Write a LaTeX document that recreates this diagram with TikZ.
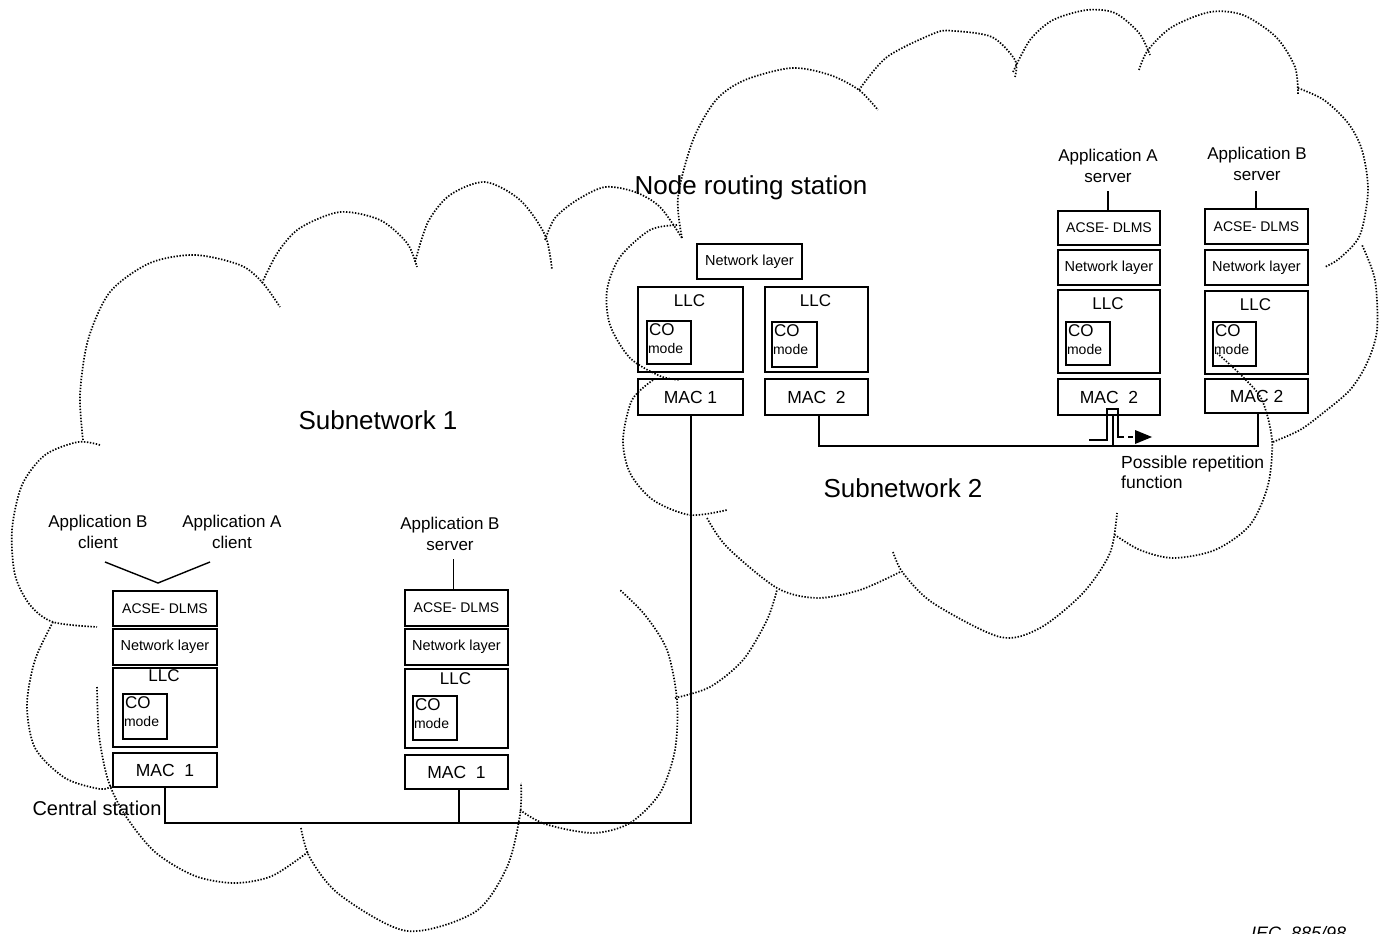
\documentclass[tikz,border=0pt]{standalone}
\usepackage{fontspec}
\setmainfont{Liberation Sans}
\usetikzlibrary{arrows.meta}
\newcommand{\fsz}[2]{\fontsize{#1}{#2}\selectfont}
% a rectangular layer box given by its corners (x1,y1) (x2,y2)
\newcommand{\layerbox}[6]{%
  \pgfmathsetmacro\lbw{#4-#2}\pgfmathsetmacro\lbh{#5-#3}%
  \pgfmathsetmacro\lbx{(#2+#4)/2}\pgfmathsetmacro\lby{(#3+#5)/2}%
  \node[box, minimum width=\lbw pt, minimum height=\lbh pt] (#1) at (\lbx,\lby) {#6};}
% LLC caption (#7 = gap below the box top) and CO-mode inset for an LLC box
\newcommand{\llcparts}[7]{%
  \node[anchor=north, inner sep=0pt, font=\fsz{17}{19}] (#1T) at ([xshift=-1pt,yshift=-#7pt]#1.north) {LLC};
  \layerbox{#2}{#3}{#4}{#5}{#6}{}
  \node[anchor=north west, inner sep=0pt, font=\fsz{17}{19}] (#2A) at ([xshift=2.5pt,yshift=-3pt]#2.north west) {CO};
  \node[anchor=base west, inner sep=0pt, font=\fsz{14}{16}] (#2B) at ([xshift=1.5pt,yshift=-33pt]#2.north west) {mode};}
\tikzset{
  box/.style={draw, line width=1.3pt, inner sep=0pt},
  bus/.style={line width=2pt},
  pulse/.style={line width=1.6pt},
  cloudline/.style={line width=1.7pt, dash pattern=on 1.4pt off 1.6pt},
  lbl/.style={align=center, inner sep=0pt, font=\fsz{17}{20.5}},
  feed/.style={line width=1.4pt},
}
\begin{document}
\begin{tikzpicture}[x=1pt,y=-1pt]
\useasboundingbox (0,0) rectangle (1385,934);

% ---------- cloud outlines ----------
\begin{scope}[cloudline]
% subnetwork 1
\draw plot[smooth] coordinates {(100,445) (78,442) (45,455) (22,485) (12,530) (15,575) (30,605) (53,622) (97,627)};
\draw plot[smooth] coordinates {(53,622) (35,660) (27,705) (35,748) (65,778) (100,789) (112,786)};
\draw plot[smooth] coordinates {(97,687) (99,735) (108,780) (125,815) (155,852) (195,876) (235,883) (272,876) (308,852)};
\draw plot[smooth] coordinates {(301,828) (310,858) (340,895) (407,931) (475,912) (507,867) (520,815) (521,783)};
\draw plot[smooth] coordinates {(520,810) (545,824) (593,833) (630,823) (660,793) (675,750) (677,700) (667,650) (645,615) (620,590)};
\draw plot[smooth] coordinates {(83,440) (80,395) (88,340) (110,292) (150,263) (195,255) (240,265) (262,282) (280,307)};
\draw plot[smooth] coordinates {(262,283) (278,252) (300,228) (340,212) (380,220) (407,243) (417,267)};
\draw plot[smooth] coordinates {(415,262) (428,222) (450,195) (485,182) (520,200) (545,235) (552,270)};
\draw plot[smooth] coordinates {(545,240) (555,218) (577,200) (605,187) (635,192) (660,207) (682,238)};
% subnetwork 2
\draw plot[smooth] coordinates {(677,225) (650,230) (620,257) (607,290) (610,325) (630,358) (660,376) (680,380)};
\draw plot[smooth] coordinates {(653,380) (632,400) (623,440) (630,473) (653,500) (690,515) (727,510)};
\draw plot[smooth] coordinates {(675,698) (710,687) (743,660) (767,620) (777,590)};
\draw plot[smooth] coordinates {(707,518) (727,547) (777,588) (817,598) (860,590) (900,572)};
\draw plot[smooth] coordinates {(893,552) (903,573) (933,603) (1000,637) (1040,628) (1083,593) (1110,553) (1117,513)};
\draw plot[smooth] coordinates {(1217,353) (1243,377) (1262,400) (1272,440) (1268,485) (1250,525) (1215,550) (1173,558) (1140,550) (1115,535)};
\draw plot[smooth] coordinates {(1273,442) (1300,430) (1323,413) (1350,390) (1367,363) (1377,330) (1375,280) (1362,245)};
\draw plot[smooth] coordinates {(1298,88) (1324,100) (1348,123) (1362,150) (1368,190) (1360,235) (1340,258) (1325,267)};
\draw plot[smooth] coordinates {(1139,70) (1148,50) (1172,27) (1210,12) (1243,15) (1276,37) (1295,67) (1298,95)};
\draw plot[smooth] coordinates {(1013,72) (1030,40) (1053,20) (1087,10) (1115,13) (1139,33) (1150,55)};
\draw plot[smooth] coordinates {(859,90) (887,57) (935,33) (954,31) (992,37) (1015,60) (1015,77)};
\draw plot[smooth] coordinates {(682,238) (678,197) (693,140) (716,100) (745,80) (792,68) (830,75) (859,90) (878,110)};
\end{scope}

% ---------- central station ----------
\node[lbl] (cAppB) at (98,532) {Application B\\client};
\node[lbl] (cAppA) at (232,532) {Application A\\client};
\layerbox{cAcse}{113}{591}{217}{626}{\fsz{14}{16}ACSE- DLMS}
\layerbox{cNet}{113}{629}{217}{665}{\fsz{14.5}{16}Network layer}
\layerbox{cLlc}{113}{668}{217}{747}{}
\llcparts{cLlc}{cCo}{123}{694}{167}{739}{2.5}
\layerbox{cMac}{113}{753}{217}{787}{\fsz{17.5}{19}MAC\ \ 1}
\coordinate (cVl) at (105,562);
\coordinate (cVt) at (158,583);
\coordinate (cVr) at (210,562);
\draw[feed] (cVl) -- (cVt) -- (cVr);
\node[inner sep=0pt, font=\fsz{20}{22}] (cst) at (97,808) {Central station};

% ---------- application B server, subnetwork 1 ----------
\node[lbl] (sAppB) at (450,534) {Application B\\server};
\layerbox{sAcse}{405}{590}{508}{626}{\fsz{14}{16}ACSE- DLMS}
\layerbox{sNet}{405}{629}{508}{665}{\fsz{14.5}{16}Network layer}
\layerbox{sLlc}{405}{669}{508}{748}{}
\llcparts{sLlc}{sCo}{413}{696}{457}{740}{4}
\layerbox{sMac}{405}{755}{508}{789}{\fsz{17.5}{19}MAC\ \ 1}
\draw[feed] ([xshift=-3pt]sAcse.north) -- ++(0,-30);

% ---------- node routing station ----------
\node[inner sep=0pt, font=\fsz{26}{28}] (nrs) at (751,188) {Node routing station};
\layerbox{nNet}{697}{244}{802}{279}{\fsz{14.5}{16}Network layer}
\layerbox{nLlc1}{638}{287}{743}{372}{}
\llcparts{nLlc1}{nCo1}{647}{321}{691}{364}{8}
\layerbox{nLlc2}{765}{287}{868}{372}{}
\llcparts{nLlc2}{nCo2}{772}{322}{817}{367}{8}
\layerbox{nMac1}{638}{379}{743}{415}{\fsz{17.5}{19}MAC 1}
\layerbox{nMac2}{765}{379}{868}{415}{\fsz{17.5}{19}MAC\ \ 2}

% ---------- application A server, subnetwork 2 ----------
\node[lbl] (aApp) at (1108,166) {Application A\\server};
\layerbox{aAcse}{1058}{211}{1160}{245}{\fsz{14}{16}ACSE- DLMS}
\layerbox{aNet}{1058}{250}{1160}{285}{\fsz{14.5}{16}Network layer}
\layerbox{aLlc}{1058}{290}{1160}{373}{}
\llcparts{aLlc}{aCo}{1066}{322}{1110}{365}{8}
\layerbox{aMac}{1058}{379}{1160}{415}{\fsz{17.5}{19}MAC\ \ 2}
\draw[feed] ([xshift=-1pt]aAcse.north) -- ++(0,-19);

% ---------- application B server, subnetwork 2 ----------
\node[lbl] (bApp) at (1257,164) {Application B\\server};
\layerbox{bAcse}{1205}{209}{1308}{244}{\fsz{14}{16}ACSE- DLMS}
\layerbox{bNet}{1205}{250}{1308}{285}{\fsz{14.5}{16}Network layer}
\layerbox{bLlc}{1205}{291}{1308}{374}{}
\llcparts{bLlc}{bCo}{1213}{322}{1256}{366}{8}
\layerbox{bMac}{1205}{379}{1308}{413}{\fsz{17.5}{19}MAC 2}
\draw[feed] ([xshift=-0.5pt]bAcse.north) -- ++(0,-17);

% ---------- buses ----------
\coordinate (bus1) at (0,823);
\coordinate (bus2) at (0,446);
\draw[bus] (cMac.south) |- ([xshift=0.5pt]nMac1.south |- bus1) -- ([xshift=0.5pt]nMac1.south);
\draw[bus] ([xshift=2.5pt]sMac.south) -- ([xshift=2.5pt]sMac.south |- bus1);
\draw[bus] ([xshift=2.5pt]nMac2.south) |- ([xshift=1.5pt]bMac.south |- bus2) -- ([xshift=1.5pt]bMac.south);
\draw[bus] ([xshift=4pt]aMac.south) -- ([xshift=4pt]aMac.south |- bus2);

% ---------- repetition function ----------
\coordinate (p0) at (1089,440);
\coordinate (p1) at (1107,440);
\coordinate (p2) at (1107,409);
\coordinate (p3) at (1118,409);
\coordinate (p4) at (1118,437);
\coordinate (p5) at (1124,437);
\coordinate (d0) at (1128,437);
\coordinate (d1) at (1133,437);
\draw[pulse] (p0) -- (p1) -- (p2) -- (p3) -- (p4) -- (p5);
\draw[pulse] (d0) -- (d1);
\coordinate (t0) at (1135,430);
\coordinate (t1) at (1152,437);
\coordinate (t2) at (1135,444);
\fill (t0) -- (t1) -- (t2) -- cycle;
\node[anchor=north west, align=left, inner sep=0pt, font=\fsz{17.5}{20}] (rep) at (1121,456) {Possible repetition\\function};

% ---------- subnetwork names ----------
\node[inner sep=0pt, font=\fsz{26}{28}] (sub1) at (378,420) {Subnetwork 1};
\node[inner sep=0pt, font=\fsz{26}{28}] (sub2) at (903,488) {Subnetwork 2};

% figure reference
\node[anchor=base west, inner sep=0pt, font=\fsz{18}{20}\itshape] (iec) at (1251,939) {IEC\ \ 885/98};
\end{tikzpicture}
\end{document}
